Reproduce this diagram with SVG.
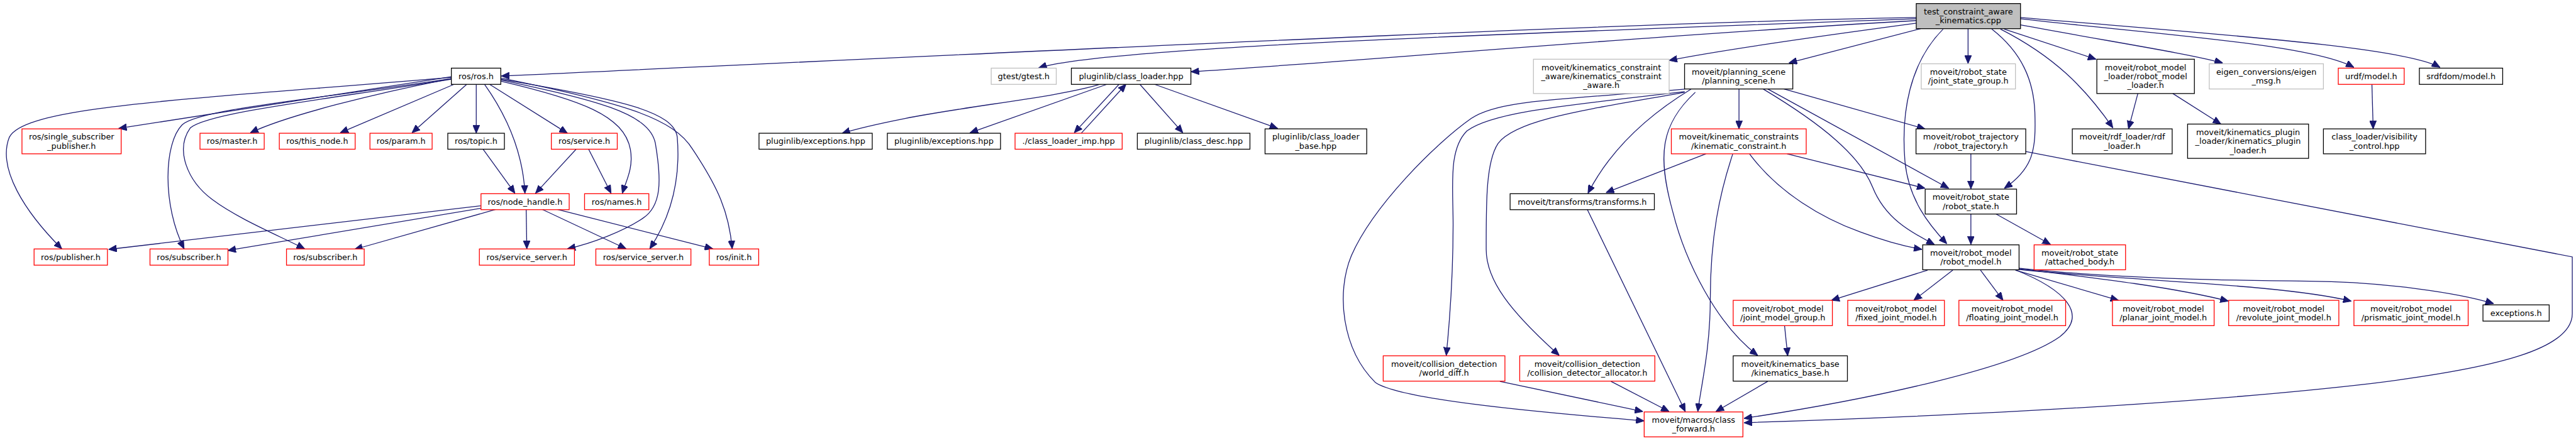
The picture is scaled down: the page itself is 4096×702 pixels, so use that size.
<svg xmlns="http://www.w3.org/2000/svg" width="4096" height="702" viewBox="0 0 4096 702">
<style>
.b{fill:#fff;stroke:#000;stroke-width:1.3}
.r{fill:#fff;stroke:#f00;stroke-width:1.3}
.g{fill:#fff;stroke:#bfbfbf;stroke-width:1.3}
.root{fill:#bfbfbf;stroke:#000;stroke-width:1.3}
text{font-family:"DejaVu Sans",sans-serif;font-size:13px;fill:#000;text-anchor:middle}
#edges path{fill:none;stroke:#191970;stroke-width:1.3;marker-end:url(#a)}
</style>
<defs>
<marker id="a" viewBox="0 0 13 11" refX="13" refY="5.5" markerWidth="13" markerHeight="11" markerUnits="userSpaceOnUse" orient="auto">
<path d="M0,0L13,5.5L0,11z" fill="#191970" stroke="#191970" stroke-width="1"/>
</marker>
</defs>
<rect width="4096" height="702" fill="#fff"/>
<g transform="scale(0.9925)">
<g id="edges">
<path d="M3070,28 C2600,36 1600,85 803,122"/>
<path d="M3070,30 C2300,58 1760,78 1664,109"/>
<path d="M3070,33 C2600,60 2100,104 1908,115"/>
<path d="M3072,37 C2900,60 2760,80 2674,97"/>
<path d="M3077,46 L2866,101"/>
<path d="M3153,46 L3153,102"/>
<path d="M3191,46.7 C3240,85 3258,130 3260,180 C3262,240 3258,270 3211,302"/>
<path d="M3113,46.7 C3060,100 3045,180 3052,260 C3058,320 3090,360 3119,391"/>
<path d="M3211,46.7 L3358,95"/>
<path d="M3205,46.7 C3290,90 3340,140 3385,205"/>
<path d="M3237,40 C3400,70 3500,85 3561,101"/>
<path d="M3237,30 C3450,55 3700,70 3771,108"/>
<path d="M3237,28 C3550,55 3850,75 3909,108"/>
<path d="M723,123 L190,206"/>
<path d="M723,126 C600,150 460,185 401,213"/>
<path d="M728,135 L545,213"/>
<path d="M748,135 L660,213"/>
<path d="M763,135.3 L763,213.7"/>
<path d="M776,135 C815,190 838,250 841,310"/>
<path d="M784,135 L909,213.7"/>
<path d="M802,130 C930,160 1000,185 1010,240 C1015,270 1003,290 997,310"/>
<path d="M723,124 C300,160 40,170 15,220 C-5,270 40,340 99,399"/>
<path d="M723,126 C500,160 320,175 292,200 C262,230 260,330 295,399"/>
<path d="M723,127 C520,160 335,180 305,205 C280,240 300,290 340,320 C380,350 440,375 488,399"/>
<path d="M802,128 C950,160 1040,180 1050,230 C1060,290 1060,330 1030,350 C1000,370 950,390 909,399"/>
<path d="M802,127 C1000,160 1080,180 1085,220 C1090,280 1080,340 1041,399"/>
<path d="M802,125 C1000,165 1080,190 1110,240 C1150,300 1168,340 1173,399"/>
<path d="M774,239.3 L825,310"/>
<path d="M923,239.3 L858,310"/>
<path d="M943,239.3 L979,310"/>
<path d="M771,330 L174,400"/>
<path d="M771,334 L365,401.7"/>
<path d="M794,336 L568,400"/>
<path d="M843,336 L844,399"/>
<path d="M869,336 L1003,399"/>
<path d="M893,336 L1142,399"/>
<path d="M1763,135 C1700,155 1550,170 1450,190 C1400,200 1370,207 1349,214"/>
<path d="M1774,135 L1554,213"/>
<path d="M1793,135 L1721,213"/>
<path d="M1732,214 L1804,135"/>
<path d="M1826,135 L1895,213"/>
<path d="M1849,135 L2047,206"/>
<path d="M2786,142.7 L2786,206.7"/>
<path d="M2858,142.7 L3084,206.7"/>
<path d="M2832,142.7 L3122,302"/>
<path d="M2825,143 C2920,200 2980,250 3000,300 C3020,350 3060,372 3099,392"/>
<path d="M2709,143 C2640,185 2580,240 2544,310"/>
<path d="M2699,143 C2500,160 2400,160 2357,190 C2300,230 2200,330 2165,410 C2140,470 2150,560 2203,613 C2240,640 2450,660 2634,675"/>
<path d="M2699,147 C2500,170 2390,180 2350,210 C2320,240 2328,300 2328,360 C2328,450 2322,520 2317,570"/>
<path d="M2699,148 C2550,175 2430,190 2400,230 C2380,260 2381,330 2381,400 C2381,450 2420,500 2498,570"/>
<path d="M2716,148 C2660,200 2655,250 2680,340 C2700,420 2750,520 2816,570"/>
<path d="M2733,246.7 L2573,309"/>
<path d="M2863,246.7 L3084,302"/>
<path d="M2803,247 C2850,310 2920,350 2980,372 C3020,387 3050,395 3079,400"/>
<path d="M2776,247 C2755,310 2740,380 2740,480 C2740,560 2725,620 2720,660"/>
<path d="M2543,336 L2700,660"/>
<path d="M3157.5,246.7 L3157.5,303"/>
<path d="M3245,243 L4121,412 L4121,503 C4121,560 4000,590 3800,615 C3500,650 3100,668 2794,678"/>
<path d="M3157.5,343.3 L3157.5,392"/>
<path d="M3198,343.3 L3285,392"/>
<path d="M3088,433.3 L2934,481.7"/>
<path d="M3128.5,433.3 L3066,481.7"/>
<path d="M3173,433.3 L3209,481.7"/>
<path d="M3229,433.3 L3394,481.7"/>
<path d="M3234,431 C3350,445 3480,460 3570,483"/>
<path d="M3234,432 C3400,450 3650,455 3767,483"/>
<path d="M3234,430 C3400,448 3600,450 3700,451 C3820,452 3940,470 3995,487"/>
<path d="M3229,433 C3310,465 3345,505 3300,540 C3230,590 3000,640 2794,671"/>
<path d="M2859,522.3 L2864,570.7"/>
<path d="M2832,611.7 L2749,660"/>
<path d="M2403,611.7 L2632,660"/>
<path d="M2581,611.7 L2674,660"/>
<path d="M3425,150 L3410,206.7"/>
<path d="M3481,150 L3558,199"/>
<path d="M3800,135.3 L3802,206.7"/>
</g>
<g id="root"><rect class="root" x="3070" y="5.7" width="167" height="40.3"/><text x="3153.5" y="23.1">test_constraint_aware</text><text x="3153.5" y="37.6">_kinematics.cpp</text></g>
<g id="ros_h"><rect class="b" x="723.1" y="109.3" width="79.2" height="26"/><text x="762.7" y="126.8">ros/ros.h</text></g>
<g id="gtest"><rect class="g" x="1588" y="109.3" width="104.2" height="26"/><text x="1640.1" y="126.8">gtest/gtest.h</text></g>
<g id="class_loader"><rect class="b" x="1716.4" y="109.3" width="191.5" height="26"/><text x="1812.15" y="126.8">pluginlib/class_loader.hpp</text></g>
<g id="kc_aware"><rect class="g" x="2456.7" y="95" width="217.4" height="55"/><text x="2565.4" y="112.5">moveit/kinematics_constraint</text><text x="2565.4" y="127">_aware/kinematics_constraint</text><text x="2565.4" y="141.5">_aware.h</text></g>
<g id="planning_scene"><rect class="b" x="2698.8" y="102.3" width="173.4" height="40.4"/><text x="2785.5" y="119.75">moveit/planning_scene</text><text x="2785.5" y="134.25">/planning_scene.h</text></g>
<g id="joint_state_group"><rect class="g" x="3078" y="102.3" width="150.9" height="40.4"/><text x="3153.45" y="119.75">moveit/robot_state</text><text x="3153.45" y="134.25">/joint_state_group.h</text></g>
<g id="robot_model_loader"><rect class="b" x="3359.3" y="95" width="156.3" height="55"/><text x="3437.45" y="112.5">moveit/robot_model</text><text x="3437.45" y="127">_loader/robot_model</text><text x="3437.45" y="141.5">_loader.h</text></g>
<g id="eigen_msg"><rect class="g" x="3539.4" y="102.3" width="182.9" height="40.4"/><text x="3630.85" y="119.75">eigen_conversions/eigen</text><text x="3630.85" y="134.25">_msg.h</text></g>
<g id="urdf_model"><rect class="r" x="3746.1" y="109.3" width="105.6" height="26"/><text x="3798.9" y="126.8">urdf/model.h</text></g>
<g id="srdfdom_model"><rect class="b" x="3876" y="109.3" width="133.5" height="26"/><text x="3942.75" y="126.8">srdfdom/model.h</text></g>
<g id="single_sub"><rect class="r" x="35.2" y="206.7" width="158.9" height="40"/><text x="114.65" y="223.95">ros/single_subscriber</text><text x="114.65" y="238.45">_publisher.h</text></g>
<g id="master"><rect class="r" x="320.4" y="213.7" width="102.9" height="25.6"/><text x="371.85" y="231">ros/master.h</text></g>
<g id="this_node"><rect class="r" x="447.5" y="213.7" width="121.5" height="25.6"/><text x="508.25" y="231">ros/this_node.h</text></g>
<g id="param"><rect class="r" x="592.7" y="213.7" width="99.6" height="25.6"/><text x="642.5" y="231">ros/param.h</text></g>
<g id="topic"><rect class="b" x="717.4" y="213.7" width="90.7" height="25.6"/><text x="762.75" y="231">ros/topic.h</text></g>
<g id="service"><rect class="r" x="883.3" y="213.7" width="105.6" height="25.6"/><text x="936.1" y="231">ros/service.h</text></g>
<g id="exceptions_hpp_1"><rect class="b" x="1216" y="213.7" width="181.4" height="25.6"/><text x="1306.7" y="231">pluginlib/exceptions.hpp</text></g>
<g id="exceptions_hpp_2"><rect class="b" x="1421.6" y="213.7" width="181.3" height="25.6"/><text x="1512.25" y="231">pluginlib/exceptions.hpp</text></g>
<g id="class_loader_imp"><rect class="r" x="1626.2" y="213.7" width="171.6" height="25.6"/><text x="1712" y="231">./class_loader_imp.hpp</text></g>
<g id="class_desc"><rect class="b" x="1822.1" y="213.7" width="180.4" height="25.6"/><text x="1912.3" y="231">pluginlib/class_desc.hpp</text></g>
<g id="class_loader_base"><rect class="b" x="2026.7" y="206.7" width="162.9" height="40"/><text x="2108.15" y="223.95">pluginlib/class_loader</text><text x="2108.15" y="238.45">_base.hpp</text></g>
<g id="kinematic_constraint"><rect class="r" x="2677.6" y="206.7" width="216.1" height="40"/><text x="2785.65" y="223.95">moveit/kinematic_constraints</text><text x="2785.65" y="238.45">/kinematic_constraint.h</text></g>
<g id="robot_trajectory"><rect class="b" x="3069.6" y="206.7" width="175.8" height="40"/><text x="3157.5" y="223.95">moveit/robot_trajectory</text><text x="3157.5" y="238.45">/robot_trajectory.h</text></g>
<g id="rdf_loader"><rect class="b" x="3320" y="206.7" width="160" height="40"/><text x="3400" y="223.95">moveit/rdf_loader/rdf</text><text x="3400" y="238.45">_loader.h</text></g>
<g id="kinematics_plugin_loader"><rect class="b" x="3504.7" y="199" width="193.8" height="55"/><text x="3601.6" y="216.5">moveit/kinematics_plugin</text><text x="3601.6" y="231">_loader/kinematics_plugin</text><text x="3601.6" y="245.5">_loader.h</text></g>
<g id="visibility_control"><rect class="b" x="3722.3" y="206.7" width="163.7" height="40"/><text x="3804.15" y="223.95">class_loader/visibility</text><text x="3804.15" y="238.45">_control.hpp</text></g>
<g id="node_handle"><rect class="r" x="770.6" y="310.7" width="141.3" height="25.6"/><text x="841.25" y="328">ros/node_handle.h</text></g>
<g id="names"><rect class="r" x="936.5" y="310.7" width="103" height="25.6"/><text x="988" y="328">ros/names.h</text></g>
<g id="transforms"><rect class="b" x="2419.3" y="310.7" width="231.1" height="25.6"/><text x="2534.85" y="328">moveit/transforms/transforms.h</text></g>
<g id="robot_state"><rect class="b" x="3084.3" y="303.3" width="146.4" height="40"/><text x="3157.5" y="320.55">moveit/robot_state</text><text x="3157.5" y="335.05">/robot_state.h</text></g>
<g id="publisher"><rect class="r" x="54.6" y="399.3" width="117.5" height="26"/><text x="113.35" y="416.8">ros/publisher.h</text></g>
<g id="subscriber_1"><rect class="r" x="240.3" y="399.3" width="124.9" height="26"/><text x="302.75" y="416.8">ros/subscriber.h</text></g>
<g id="subscriber_2"><rect class="r" x="459" y="399.3" width="124.5" height="26"/><text x="521.25" y="416.8">ros/subscriber.h</text></g>
<g id="service_server_1"><rect class="r" x="768" y="399.3" width="152.3" height="26"/><text x="844.15" y="416.8">ros/service_server.h</text></g>
<g id="service_server_2"><rect class="r" x="954.6" y="399.3" width="152.3" height="26"/><text x="1030.75" y="416.8">ros/service_server.h</text></g>
<g id="init"><rect class="r" x="1136.3" y="399.3" width="79.2" height="26"/><text x="1175.9" y="416.8">ros/init.h</text></g>
<g id="robot_model"><rect class="b" x="3080.3" y="392.7" width="154.4" height="40"/><text x="3157.5" y="409.95">moveit/robot_model</text><text x="3157.5" y="424.45">/robot_model.h</text></g>
<g id="attached_body"><rect class="r" x="3258.8" y="392.7" width="146.5" height="40"/><text x="3332.05" y="409.95">moveit/robot_state</text><text x="3332.05" y="424.45">/attached_body.h</text></g>
<g id="joint_model_group"><rect class="r" x="2776.7" y="481.7" width="158.9" height="40.6"/><text x="2856.15" y="499.25">moveit/robot_model</text><text x="2856.15" y="513.75">/joint_model_group.h</text></g>
<g id="fixed_joint_model"><rect class="r" x="2960.2" y="481.7" width="154.9" height="40.6"/><text x="3037.65" y="499.25">moveit/robot_model</text><text x="3037.65" y="513.75">/fixed_joint_model.h</text></g>
<g id="floating_joint_model"><rect class="r" x="3138.3" y="481.7" width="171" height="40.6"/><text x="3223.8" y="499.25">moveit/robot_model</text><text x="3223.8" y="513.75">/floating_joint_model.h</text></g>
<g id="planar_joint_model"><rect class="r" x="3384.3" y="481.7" width="162.9" height="40.6"/><text x="3465.75" y="499.25">moveit/robot_model</text><text x="3465.75" y="513.75">/planar_joint_model.h</text></g>
<g id="revolute_joint_model"><rect class="r" x="3570.5" y="481.7" width="176.5" height="40.6"/><text x="3658.75" y="499.25">moveit/robot_model</text><text x="3658.75" y="513.75">/revolute_joint_model.h</text></g>
<g id="prismatic_joint_model"><rect class="r" x="3771.2" y="481.7" width="183" height="40.6"/><text x="3862.7" y="499.25">moveit/robot_model</text><text x="3862.7" y="513.75">/prismatic_joint_model.h</text></g>
<g id="exceptions_h"><rect class="b" x="3977.9" y="489" width="106.1" height="26"/><text x="4030.95" y="506.5">exceptions.h</text></g>
<g id="world_diff"><rect class="r" x="2216" y="570.7" width="195" height="40.6"/><text x="2313.5" y="588.25">moveit/collision_detection</text><text x="2313.5" y="602.75">/world_diff.h</text></g>
<g id="collision_detector_allocator"><rect class="r" x="2434.7" y="570.7" width="216.5" height="40.6"/><text x="2542.95" y="588.25">moveit/collision_detection</text><text x="2542.95" y="602.75">/collision_detector_allocator.h</text></g>
<g id="kinematics_base"><rect class="b" x="2776.7" y="570.7" width="183" height="40.6"/><text x="2868.2" y="588.25">moveit/kinematics_base</text><text x="2868.2" y="602.75">/kinematics_base.h</text></g>
<g id="class_forward"><rect class="r" x="2634.1" y="660.7" width="158.2" height="40"/><text x="2713.2" y="677.95">moveit/macros/class</text><text x="2713.2" y="692.45">_forward.h</text></g>
</g>
</svg>
